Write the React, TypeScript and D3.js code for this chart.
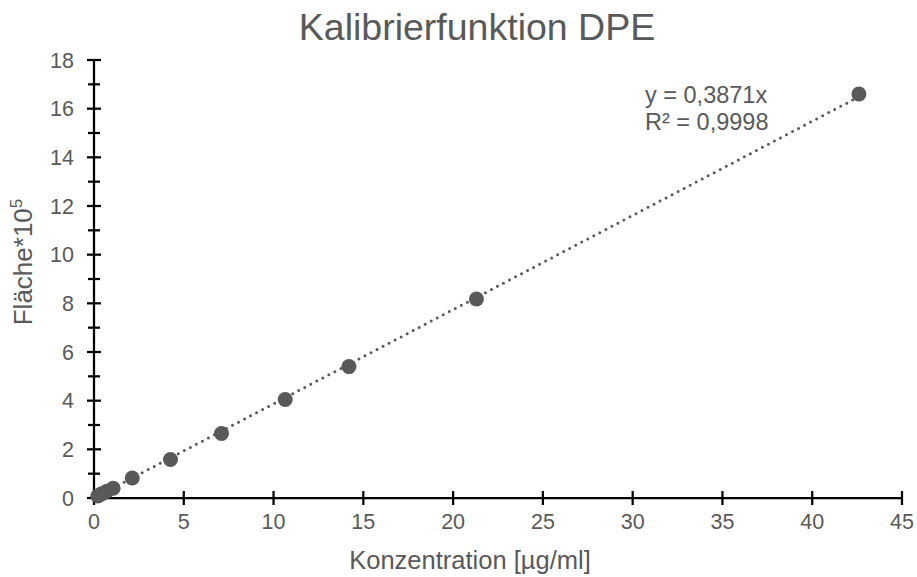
import * as d3 from 'd3'

const conc = [42.6, 21.3, 14.2, 10.65, 7.1, 4.26, 2.13, 1.065, 0.71, 0.426, 0.213]
const area = [16.6, 8.18, 5.4, 4.05, 2.65, 1.58, 0.82, 0.4, 0.28, 0.17, 0.08]
const xTicks = [0, 5, 10, 15, 20, 25, 30, 35, 40, 45]
const yTicks = [0, 2, 4, 6, 8, 10, 12, 14, 16, 18]
const yMinor = [1, 3, 5, 7, 9, 11, 13, 15, 17]
const slope = 0.3871

const W = 917, H = 577
const GRAY = '#595959'
const FONT = '"Liberation Sans", Arial, sans-serif'

export default function App() {
  const x = d3.scaleLinear().domain([0, 45]).range([94, 902])
  const y = d3.scaleLinear().domain([0, 18]).range([498, 60])
  const xMax = d3.max(conc) as number
  const trend = d3.line<number>().x(d => x(d)).y(d => y(d * slope))([0, xMax]) as string
  return (
    <svg width={W} height={H} style={{ position: 'absolute', left: 0, top: 0, background: '#fff' }} fontFamily={FONT}>
      <text x={477} y={40} textAnchor="middle" fontSize={37.5} fill={GRAY}>Kalibrierfunktion DPE</text>
      {/* axes */}
      <line x1={x(0)} x2={x(45)} y1={y(0)} y2={y(0)} stroke="#000" strokeWidth={2.25} />
      <line x1={x(0)} x2={x(0)} y1={y(0)} y2={y(18)} stroke="#000" strokeWidth={2.25} />
      {xTicks.map(t => (
        <g key={'x' + t}>
          <line x1={x(t)} x2={x(t)} y1={y(0) - 7} y2={y(0) + 7} stroke="#000" strokeWidth={2.25} />
          <text x={x(t)} y={529} textAnchor="middle" fontSize={21.5} fill={GRAY}>{t}</text>
        </g>
      ))}
      {yTicks.map(t => (
        <g key={'y' + t}>
          <line x1={x(0) - 7} x2={x(0) + 7} y1={y(t)} y2={y(t)} stroke="#000" strokeWidth={2.25} />
          <text x={74} y={y(t) + 7.5} textAnchor="end" fontSize={21.5} fill={GRAY}>{t}</text>
        </g>
      ))}
      {yMinor.map(t => (
        <line key={'m' + t} x1={x(0) - 6} x2={x(0) + 6} y1={y(t)} y2={y(t)} stroke="#000" strokeWidth={2.25} />
      ))}
      {/* trendline */}
      <path d={trend} fill="none" stroke={GRAY} strokeWidth={3} strokeLinecap="round" strokeDasharray="0 6.8" />
      {conc.map((c, i) => (
        <circle key={i} cx={x(c)} cy={y(area[i])} r={7.5} fill={GRAY} />
      ))}
      <text x={645} y={103} fontSize={23.5} fill={GRAY}>y = 0,3871x</text>
      <text x={645} y={130} fontSize={23.5} fill={GRAY}>R² = 0,9998</text>
      <text x={470} y={569} textAnchor="middle" fontSize={25.5} fill={GRAY}>Konzentration [µg/ml]</text>
      <text transform="translate(32,262) rotate(-90)" textAnchor="middle" fontSize={26} fill={GRAY}>
        Fläche*10<tspan dy={-10} fontSize={17}>5</tspan>
      </text>
    </svg>
  )
}
